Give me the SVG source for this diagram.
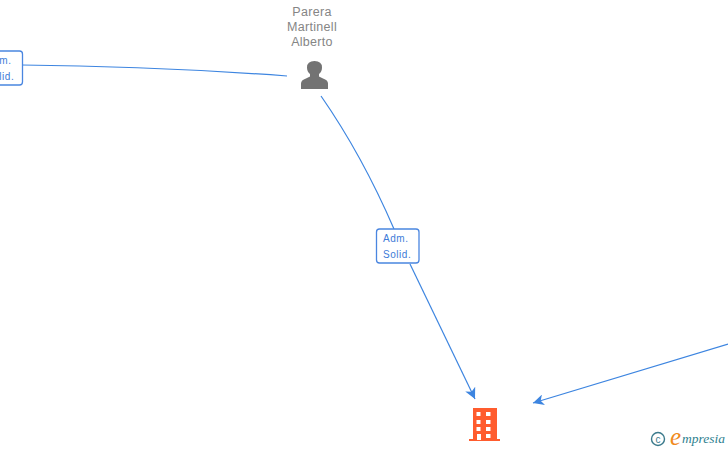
<svg xmlns="http://www.w3.org/2000/svg" width="728" height="450" viewBox="0 0 728 450">
<style>
.e{fill:none;stroke:#3d85e0;stroke-width:1.2}
.b{fill:#fff;stroke:#4a86e0;stroke-width:1.3}
.l{font:10px "Liberation Sans",Arial,sans-serif;fill:#3d7bd8;letter-spacing:.55px}
.n{font:12.500px "Liberation Sans",Arial,sans-serif;fill:#858585;text-anchor:middle;letter-spacing:.3px}
</style>
<defs>
<marker id="a" markerUnits="userSpaceOnUse" markerWidth="12" markerHeight="11" refX="11" refY="5.500" orient="auto"><path d="M0 0L11 5.500L0 11L3 5.500Z" fill="#3d85e0"/></marker>
</defs>
<rect width="728" height="450" fill="#fff"/>
<g id="connectors">
<path class="e" d="M22 65Q150 66 287 76"/>
<path class="e" d="M321 96Q362 155 394 229"/>
<path class="e" d="M410 264L475 399" marker-end="url(#a)"/>
<path class="e" d="M728 344L533 403" marker-end="url(#a)"/>
</g>
<g id="label-left"><rect class="b" x="-20" y="51" width="42.500" height="34" rx="3"/><text class="l" x="-14" y="64">Adm.</text><text class="l" x="-14" y="80">Solid.</text></g>
<g id="label-mid"><rect class="b" x="376.500" y="229" width="42.500" height="34" rx="3"/><text class="l" x="383" y="242">Adm.</text><text class="l" x="383" y="258">Solid.</text></g>
<g id="person"><text class="n" x="312" y="16">Parera</text><text class="n" x="312" y="31">Martinell</text><text class="n" x="312" y="46">Alberto</text>
<path fill="#737373" d="M301 89V83.500Q301 80 306 78.500L310 76.500V74Q307 71.500 307 67.500Q307 61 314.500 61Q322 61 322 67.500Q322 71.500 319 74V76.500L323 78.500Q328 80 328 83.500V89Z"/></g>
<g id="company"><path fill="#ff5c2e" fill-rule="evenodd" d="M473 408H497V439H500V441H469V439H473ZM476.500 412V416H480.500V412ZM486 412V416H490.500V412ZM476.500 420V424H480.500V420ZM486 420V424H490.500V420ZM476.500 427V431H480.500V427ZM486 427V431H490.500V427ZM477 434V440H481V434ZM486 434V438H490.500V434Z"/></g>
<g id="logo"><circle cx="658" cy="439" r="6.500" fill="none" stroke="#3b7a8c" stroke-width="1.400"/><text x="658" y="442.500" font-family="Liberation Sans,sans-serif" font-size="10" fill="#3b7a8c" text-anchor="middle">c</text>
<text x="670" y="445" font-family="Liberation Serif,serif" font-style="italic" font-size="25" fill="#f08a1d">e</text><text x="682" y="443" font-family="Liberation Serif,serif" font-style="italic" font-size="13.500" fill="#2f7f8f">mpresia</text></g>
</svg>
